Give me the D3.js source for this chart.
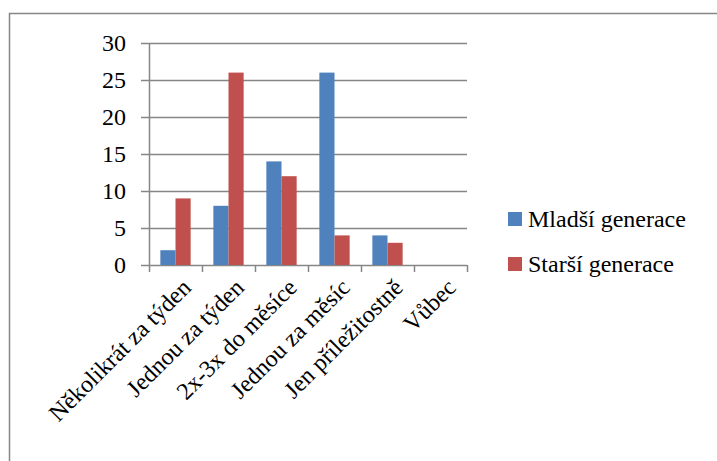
<!DOCTYPE html>
<html><head><meta charset="utf-8">
<script src="https://cdn.jsdelivr.net/npm/d3@7"></script>
<style>body{margin:0;background:#fff}</style>
</head><body><svg id="c" width="717" height="461"></svg>
<script>
const categories = ["Několikrát za týden","Jednou za týden","2x-3x do měsíce","Jednou za měsíc","Jen příležitostně","Vůbec"];
const seriesNames = ["Mladší generace","Starší generace"];
const younger = [2, 8, 14, 26, 4, 0];
const older = [9, 26, 12, 4, 3, 0];
const yTicks = [0, 5, 10, 15, 20, 25, 30];
const colors = ["#4F81BD", "#C0504D"];

const svg = d3.select("#c");
const grey = "#868686";
const L = 149, R = 467, T = 43, B = 265;
const ff = (sel, size) => sel.attr("style", `font-family:"Times New Roman";font-size:${size}px`);

svg.append("rect").attr("x", 9.5).attr("y", 13.5).attr("width", 720).attr("height", 460)
  .attr("fill", "none").attr("stroke", grey).attr("stroke-width", 1.5);

const x = d3.scaleBand().domain(categories).range([L, R]).paddingInner(0).paddingOuter(0);
const y = d3.scaleLinear().domain([0, 30]).range([B, T]);
const xs = d3.scaleBand().domain([0, 1]).range([0, x.bandwidth()]).paddingInner(0).paddingOuter(0.75);

svg.append("g").selectAll("line").data(yTicks).join("line")
  .attr("x1", L - 8).attr("x2", R).attr("y1", d => Math.round(y(d)) + 0.5).attr("y2", d => Math.round(y(d)) + 0.5)
  .attr("stroke", grey).attr("stroke-width", 1.5);

const data = [younger, older];
const g = svg.append("g");
data.forEach((vals, si) => {
  g.append("g").selectAll("rect").data(vals).join("rect")
    .attr("x", (d, i) => x(categories[i]) + xs(si))
    .attr("width", xs.bandwidth())
    .attr("y", d => y(d))
    .attr("height", d => y(0) - y(d))
    .attr("fill", colors[si]);
});

svg.append("line").attr("x1", L + 0.5).attr("x2", L + 0.5).attr("y1", T).attr("y2", B + 7)
  .attr("stroke", grey).attr("stroke-width", 1.5);
const xt = categories.map(c => x(c)).slice(1).concat([R]);
svg.append("g").selectAll("line").data(xt).join("line")
  .attr("x1", d => Math.round(d) + 0.5).attr("x2", d => Math.round(d) + 0.5)
  .attr("y1", B).attr("y2", B + 7).attr("stroke", grey).attr("stroke-width", 1.5);

ff(svg.append("g").selectAll("text").data(yTicks).join("text")
  .attr("x", 126).attr("y", d => y(d)).attr("dy", "0.33em")
  .attr("text-anchor", "end").text(d => d), 24);

ff(svg.append("g").selectAll("text").data(categories).join("text")
  .attr("transform", d => `translate(${x(d) + x.bandwidth() / 2 + 5},${B + 12}) rotate(-45)`)
  .attr("text-anchor", "end").attr("dy", "0.7em").text(d => d), 24);

const lg = svg.append("g");
seriesNames.forEach((n, i) => {
  lg.append("rect").attr("x", 508).attr("y", 212 + i * 45).attr("width", 14).attr("height", 14).attr("fill", colors[i]);
  ff(lg.append("text").attr("x", 528).attr("y", 227 + i * 45).text(n), 24);
});
</script></body></html>
